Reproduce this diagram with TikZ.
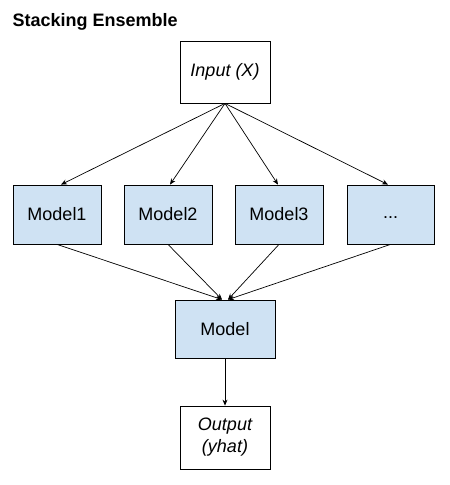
\documentclass[tikz,border=0pt]{standalone}
\usepackage{fontspec}
\setmainfont{Liberation Sans}
\usetikzlibrary{arrows.meta,calc}
\definecolor{boxblue}{HTML}{CFE2F3}
\begin{document}
\begin{tikzpicture}[x=1pt,y=-1pt,
  box/.style={draw=black,line width=0.8pt,rectangle,inner sep=0pt,align=center,font=\fontsize{18}{22}\selectfont},
  bluebox/.style={box,fill=boxblue},
  conn/.style={draw=black,line width=0.7pt,-{Stealth[length=6pt,width=5pt]}}]
\useasboundingbox (0,0) rectangle (450,485);
\node[anchor=base west,font=\fontsize{18}{22}\selectfont\bfseries] (title) at (9,26.5) {Stacking Ensemble};
\node[box,minimum width=90pt,minimum height=62pt] (in) at (225,72) {\itshape Input (X)};
\node[bluebox,minimum width=88pt,minimum height=59pt] (m1) at (57,214.5) {Model1};
\node[bluebox,minimum width=88pt,minimum height=59pt] (m2) at (168,214.5) {Model2};
\node[bluebox,minimum width=88pt,minimum height=59pt] (m3) at (279,214.5) {Model3};
\node[bluebox,minimum width=87pt,minimum height=59pt] (m4) at (390.5,214.5) {\vphantom{Mg}...};
\node[bluebox,minimum width=100pt,minimum height=58pt] (mod) at (225,329) {Model};
\node[box,minimum width=90pt,minimum height=63pt] (out) at (225,437.5) {\itshape Output\\\itshape (yhat)};
\draw[conn] (in.south) -- ($(m1.north)+(4,0)$);
\draw[conn] (in.south) -- ($(m2.north)+(2,0)$);
\draw[conn] (in.south) -- ($(m3.north)+(-1,0)$);
\draw[conn] (in.south) -- ($(m4.north)+(-2.5,0)$);
\draw[conn] (m1.south) -- ($(mod.north)+(-3,0)$);
\draw[conn] (m2.south) -- ($(mod.north)+(-3,0)$);
\draw[conn] (m3.south) -- ($(mod.north)+(3,0)$);
\draw[conn] (m4.south) -- ($(mod.north)+(3,0)$);
\draw[conn] (mod.south) -- (out.north);
\end{tikzpicture}
\end{document}
